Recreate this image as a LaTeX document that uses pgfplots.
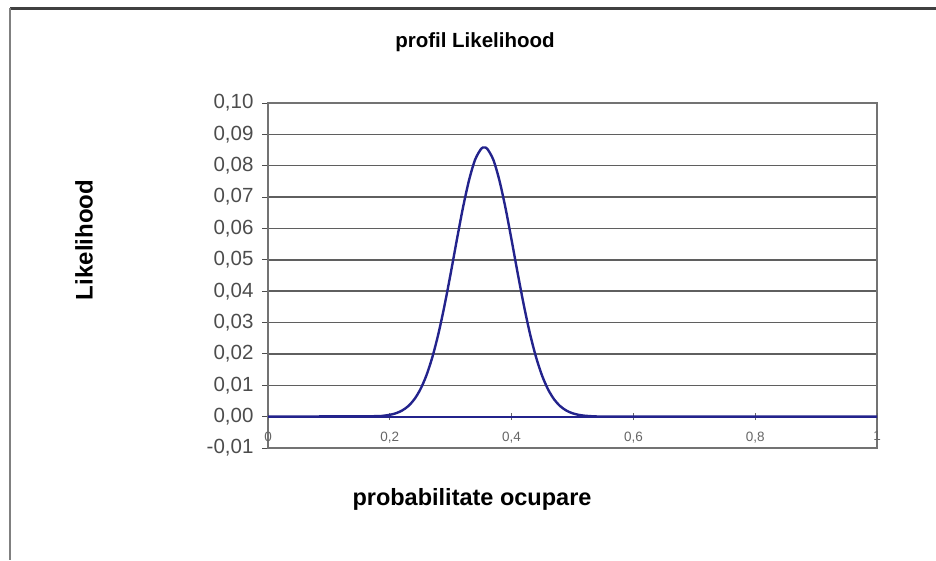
\documentclass[border=0pt]{standalone}
\usepackage{fontspec}
\setmainfont{Liberation Sans}
\usepackage{pgfplots}
\pgfplotsset{compat=1.18}
\usepackage{pgfplotstable}

\definecolor{curve}{RGB}{35,35,140}
\definecolor{gridc}{RGB}{95,95,95}

% profile likelihood
\pgfplotstableread{
x      y
0.00   0
0.18   0.00015
0.19   0.0003
0.20   0.00058
0.21   0.00108
0.22   0.00193
0.23   0.00331
0.24   0.00546
0.25   0.00864
0.26   0.0131
0.27   0.01906
0.28   0.02659
0.29   0.0356
0.30   0.0457
0.31   0.0563
0.32   0.0665
0.33   0.0753
0.34   0.0819
0.35   0.0854
0.355  0.0858
0.36   0.0854
0.37   0.0819
0.38   0.0753
0.39   0.0665
0.40   0.0563
0.41   0.0457
0.42   0.0356
0.43   0.02659
0.44   0.01906
0.45   0.0131
0.46   0.00864
0.47   0.00546
0.48   0.00331
0.49   0.00193
0.50   0.00108
0.51   0.00058
0.52   0.0003
0.53   0.00015
0.54   0.00006
0.55   0
1.00   0
}\likdata

\begin{document}
\begin{tikzpicture}[x=1pt,y=1pt]
\path[use as bounding box] (0,0) rectangle (936,-560);
% chart area frame
\draw[line width=3pt, black!75] (10,-8) -- (936,-8);
\draw[line width=1.5pt, black!50] (10,-8) -- (10,-560);

\begin{axis}[
  at={(268pt,-448pt)}, anchor=south west,
  scale only axis, width=609pt, height=345pt,
  xmin=0, xmax=1, ymin=-0.01, ymax=0.10,
  xtick=\empty,
  ytick={-0.01,0,0.01,0.02,0.03,0.04,0.05,0.06,0.07,0.08,0.09,0.10},
  ytick pos=left, tick align=outside,
  major tick length=6pt,
  ymajorgrids,
  grid style={gridc, line width=1.4pt},
  axis line style={black!55, line width=1.4pt},
  every tick/.style={black!70, line width=1pt},
  yticklabel style={font=\fontsize{20.5}{20.5}\selectfont, text=black!70, xshift=-5pt},
  /pgf/number format/.cd, fixed, fixed zerofill, precision=2, use comma,
  assume math mode=true,
]
\end{axis}

\begin{axis}[
  at={(268pt,-448pt)}, anchor=south west,
  scale only axis, width=609pt, height=345pt,
  xmin=0, xmax=1, ymin=-0.01, ymax=0.10,
  axis y line=none,
  axis x line=middle,
  x axis line style={-, curve, line width=2.2pt},
  xtick={0,0.2,0.4,0.6,0.8,1},
  xticklabels={0,{0,2},{0,4},{0,6},{0,8},1},
  tick align=center, major tick length=7pt,
  every tick/.style={black!60, line width=1pt},
  xticklabel style={font=\fontsize{13.5}{13.5}\selectfont, text=black!60, yshift=-8pt},
]
\addplot[curve, line width=2.4pt, smooth] table[x=x, y=y] {\likdata};
\end{axis}

\node[font=\bfseries\fontsize{20.5}{20.5}\selectfont] at (475,-42) {profil Likelihood};
\node[font=\bfseries\fontsize{23.5}{23.5}\selectfont] at (472,-499) {probabilitate ocupare};
\node[font=\bfseries\fontsize{24}{24}\selectfont, rotate=90] at (84,-240) {Likelihood};
\end{tikzpicture}
\end{document}
